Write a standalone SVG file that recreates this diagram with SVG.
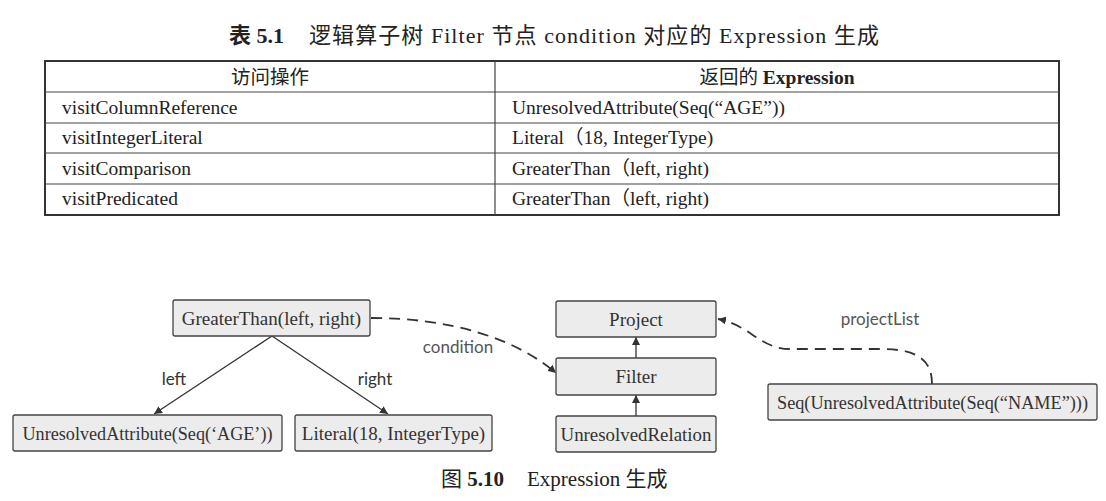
<svg xmlns="http://www.w3.org/2000/svg" width="1106" height="501" viewBox="0 0 1106 501">
<defs>
<style>
.serif{font-family:"Liberation Serif","Noto Sans CJK SC",serif;fill:#222}
.cap{font-size:22px}
.cell{font-size:19.5px}
.node rect{fill:#ececec;stroke:#444;stroke-width:1.3}
.node text{font-family:"Liberation Serif",serif;font-size:19px;fill:#333;text-anchor:middle}
.lbl{font-family:Lato,"Open Sans",sans-serif;font-size:17px}
.grid{stroke:#444;stroke-width:1.2}
.solid{stroke:#333;stroke-width:1.3;fill:none}
.dash{stroke:#333;stroke-width:1.8;fill:none;stroke-dasharray:11 7}
</style>
<marker id="ah" viewBox="0 0 10 10" refX="10" refY="5" markerWidth="8" markerHeight="8" markerUnits="userSpaceOnUse" orient="auto">
<path d="M0,0 L10,5 L0,10 z" fill="#333"/>
</marker>
</defs>
<rect width="1106" height="501" fill="#ffffff"/>

<text class="serif cap" x="229" y="43" font-weight="bold">表 5.1</text>
<text class="serif cap" x="309" y="43" textLength="570" lengthAdjust="spacing">逻辑算子树 Filter 节点 condition 对应的 Expression 生成</text>

<g id="table">
<rect x="45" y="61" width="1014" height="154" fill="none" stroke="#333" stroke-width="2"/>
<line class="grid" x1="45" y1="92" x2="1059" y2="92"/>
<line class="grid" x1="45" y1="123" x2="1059" y2="123"/>
<line class="grid" x1="45" y1="153" x2="1059" y2="153"/>
<line class="grid" x1="45" y1="184" x2="1059" y2="184"/>
<line class="grid" x1="495" y1="61" x2="495" y2="215"/>
<text class="serif cell" x="270" y="84" text-anchor="middle">访问操作</text>
<text class="serif cell" x="777" y="84" text-anchor="middle">返回的 <tspan font-weight="bold">Expression</tspan></text>
<text class="serif cell" x="62" y="114">visitColumnReference</text>
<text class="serif cell" x="62" y="144">visitIntegerLiteral</text>
<text class="serif cell" x="62" y="175">visitComparison</text>
<text class="serif cell" x="62" y="205">visitPredicated</text>
<text class="serif cell" x="512" y="114">UnresolvedAttribute(Seq(“AGE”))</text>
<text class="serif cell" x="512" y="144">Literal（18, IntegerType)</text>
<text class="serif cell" x="512" y="175">GreaterThan（left, right)</text>
<text class="serif cell" x="512" y="205">GreaterThan（left, right)</text>
</g>

<g id="connectors">
<line class="solid" x1="272" y1="336" x2="154" y2="414" marker-end="url(#ah)"/>
<line class="solid" x1="272" y1="336" x2="388" y2="414" marker-end="url(#ah)"/>
<line class="solid" x1="636" y1="358" x2="636" y2="337" marker-end="url(#ah)"/>
<line class="solid" x1="636" y1="416" x2="636" y2="395" marker-end="url(#ah)"/>
<path class="dash" d="M371,318 C450,318 515,338 556,373" marker-end="url(#ah)"/>
<path class="dash" d="M932,384 C932,362 920,350 885,349 L790,349 C760,349 750,325 718,319" marker-end="url(#ah)"/>
<text class="lbl" x="174" y="385" text-anchor="middle" fill="#333">left</text>
<text class="lbl" x="375" y="385" text-anchor="middle" fill="#333">right</text>
<text class="lbl" x="458" y="353" text-anchor="middle" fill="#555">condition</text>
<text class="lbl" x="880" y="325" text-anchor="middle" fill="#555">projectList</text>
</g>

<g id="n-greater" class="node"><rect x="173" y="300" width="197" height="36" rx="2"/><text x="271.5" y="324.5">GreaterThan(left, right)</text></g>
<g id="n-attr" class="node"><rect x="13" y="415" width="269" height="36" rx="2"/><text x="147.5" y="439.5" textLength="250" lengthAdjust="spacingAndGlyphs">UnresolvedAttribute(Seq(‘AGE’))</text></g>
<g id="n-literal" class="node"><rect x="295" y="415" width="197" height="36" rx="2"/><text x="393.5" y="439.5">Literal(18, IntegerType)</text></g>
<g id="n-project" class="node"><rect x="556" y="301" width="160" height="36" rx="2"/><text x="636" y="325.5">Project</text></g>
<g id="n-filter" class="node"><rect x="556" y="358" width="160" height="37" rx="2"/><text x="636" y="383">Filter</text></g>
<g id="n-relation" class="node"><rect x="556" y="416" width="160" height="36" rx="2"/><text x="636" y="440.5" textLength="151" lengthAdjust="spacingAndGlyphs">UnresolvedRelation</text></g>
<g id="n-seq" class="node"><rect x="768" y="384" width="329" height="36" rx="2"/><text x="932.5" y="408.5" textLength="311" lengthAdjust="spacingAndGlyphs">Seq(UnresolvedAttribute(Seq(“NAME”)))</text></g>

<text class="serif" font-size="21" x="441" y="486">图 <tspan font-weight="bold">5.10</tspan></text>
<text class="serif" font-size="21" x="527" y="486">Expression 生成</text>
</svg>
